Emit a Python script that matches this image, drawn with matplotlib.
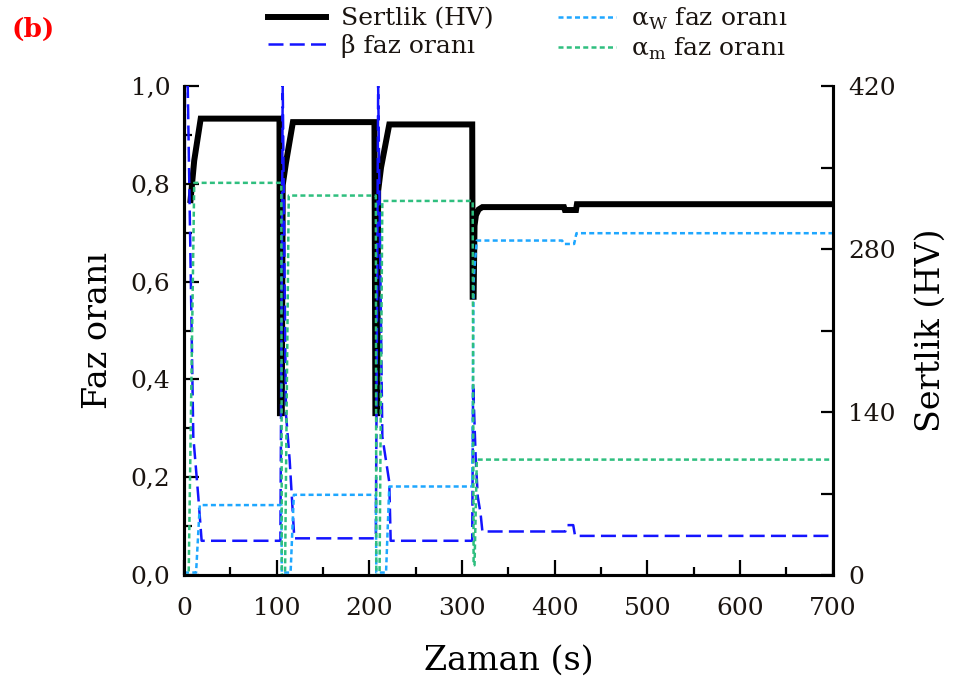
import matplotlib
matplotlib.use("Agg")
import matplotlib.pyplot as plt
from matplotlib.lines import Line2D
from matplotlib.ticker import MultipleLocator, FuncFormatter

# hardness (right axis)
t_hv = [7, 11, 18, 103, 103.5, 105.5, 106.5, 110, 117.5, 205.5, 206.5, 208.5, 209.5,
        212.6, 221.5, 311, 311.5, 312.5, 313.5, 315, 318, 322, 410, 411, 423, 424, 700]
hv = [322, 356, 392, 392, 139, 139, 335, 354, 389, 389, 139, 139, 330,
      350, 387, 387, 239, 239, 300, 309, 314, 316, 316, 313.5, 313.5, 318.5, 318.5]

# beta phase fraction
t_beta = [0, 1, 4, 10, 15.4, 19, 104, 106.5, 110, 114, 119, 207, 209.5, 214, 221.5, 223,
          311, 312, 314.7, 317, 320, 322, 411.5, 413, 420, 422, 700]
beta = [0, 1.0, 1.0, 0.283, 0.16, 0.07, 0.07, 1.0, 0.33, 0.235, 0.075, 0.075, 1.0, 0.283,
        0.19, 0.07, 0.07, 0.392, 0.242, 0.16, 0.126, 0.089, 0.089, 0.102, 0.102, 0.08, 0.08]

# alpha_W phase fraction
t_aw = [0, 13, 17, 105, 105.5, 115, 118.5, 207, 207.5, 218, 221.5, 311, 312.5, 313.5,
        316, 408, 410, 421, 423.5, 700]
aw = [0.005, 0.005, 0.143, 0.143, 0.005, 0.005, 0.164, 0.164, 0.005, 0.005, 0.181, 0.181,
      0.6, 0.63, 0.684, 0.684, 0.677, 0.677, 0.699, 0.699]

# alpha_m phase fraction
t_am = [0, 5, 11, 105, 105.5, 109, 113, 207, 207.5, 211, 214, 311.5, 312.5, 313.5, 316, 700]
am = [0, 0, 0.802, 0.802, 0, 0, 0.776, 0.776, 0, 0, 0.765, 0.765, 0.02, 0.02, 0.236, 0.236]

BLACK = "#000000"
BLUE = "#1414ff"
LBLUE = "#1ea7ff"
GREEN = "#2fbf7f"
TXT = "#1a1410"

plt.rcParams.update({
    "font.family": "DejaVu Serif",
    "mathtext.fontset": "custom",
    "mathtext.rm": "DejaVu Serif",
    "font.size": 18,
    "text.color": TXT,
    "xtick.labelcolor": TXT,
    "ytick.labelcolor": TXT,
})

fig = plt.figure(figsize=(9.56, 6.86), dpi=100)
ax = fig.add_axes([0.1925, 0.1618, 0.6785, 0.7128])
ax2 = ax.twinx()
ax2.set_zorder(ax.get_zorder() - 1)
ax.patch.set_visible(False)

ax2.plot(t_hv, hv, color=BLACK, lw=4.3, solid_joinstyle="miter")
ax.plot(t_beta, beta, color=BLUE, lw=1.8, dashes=(6, 2.5))
ax.plot(t_aw, aw, color=LBLUE, lw=1.8, dashes=(2, 1.3))
ax.plot(t_am, am, color=GREEN, lw=1.8, dashes=(2, 1.3))

ax.set_xlim(0, 700)
ax.set_ylim(0, 1.0)
ax2.set_ylim(0, 420)

comma = FuncFormatter(lambda v, p: f"{v:.1f}".replace(".", ","))
ax.yaxis.set_major_locator(MultipleLocator(0.2))
ax.yaxis.set_minor_locator(MultipleLocator(0.1))
ax.yaxis.set_major_formatter(comma)
ax.xaxis.set_major_locator(MultipleLocator(100))
ax.xaxis.set_minor_locator(MultipleLocator(50))
ax2.yaxis.set_major_locator(MultipleLocator(140))
ax2.yaxis.set_minor_locator(MultipleLocator(70))

for a in (ax, ax2):
    a.spines["top"].set_visible(False)
    for s in ("left", "right", "bottom"):
        a.spines[s].set_linewidth(2.2)
ax.tick_params(which="major", direction="in", length=11, width=1.6, pad=10, labelsize=18)
ax.tick_params(which="minor", direction="in", length=5.5, width=1.6)
ax.tick_params(axis="x", which="major", pad=16)
ax2.tick_params(which="major", direction="in", length=9, width=1.6, pad=11, labelsize=18)
ax2.tick_params(which="minor", direction="in", length=9, width=1.6)

ax.set_xlabel("Zaman (s)", fontsize=24, labelpad=18)
ax.set_ylabel("Faz oranı", fontsize=24, labelpad=12)
ax2.set_ylabel("Sertlik (HV)", fontsize=24, labelpad=14)

handles = [
    Line2D([], [], color=BLACK, lw=4.3),
    Line2D([], [], color=BLUE, lw=1.8, dashes=(6, 2.5)),
    Line2D([], [], color=LBLUE, lw=1.8, dashes=(2, 1.3)),
    Line2D([], [], color=GREEN, lw=1.8, dashes=(2, 1.3)),
]
labels = ["Sertlik (HV)", "β faz oranı", r"α$_{\rm W}$ faz oranı", r"α$_{\rm m}$ faz oranı"]
fig.legend(handles, labels, loc="upper center", bbox_to_anchor=(0.552, 1.025), ncol=2,
           frameon=False, fontsize=18, handlelength=2.3, columnspacing=2.6,
           labelspacing=0.15, handletextpad=0.6)

fig.text(0.012, 0.957, "(b)", color="red", fontsize=19, fontweight="bold", va="center")

fig.savefig("out.png", dpi=100)
